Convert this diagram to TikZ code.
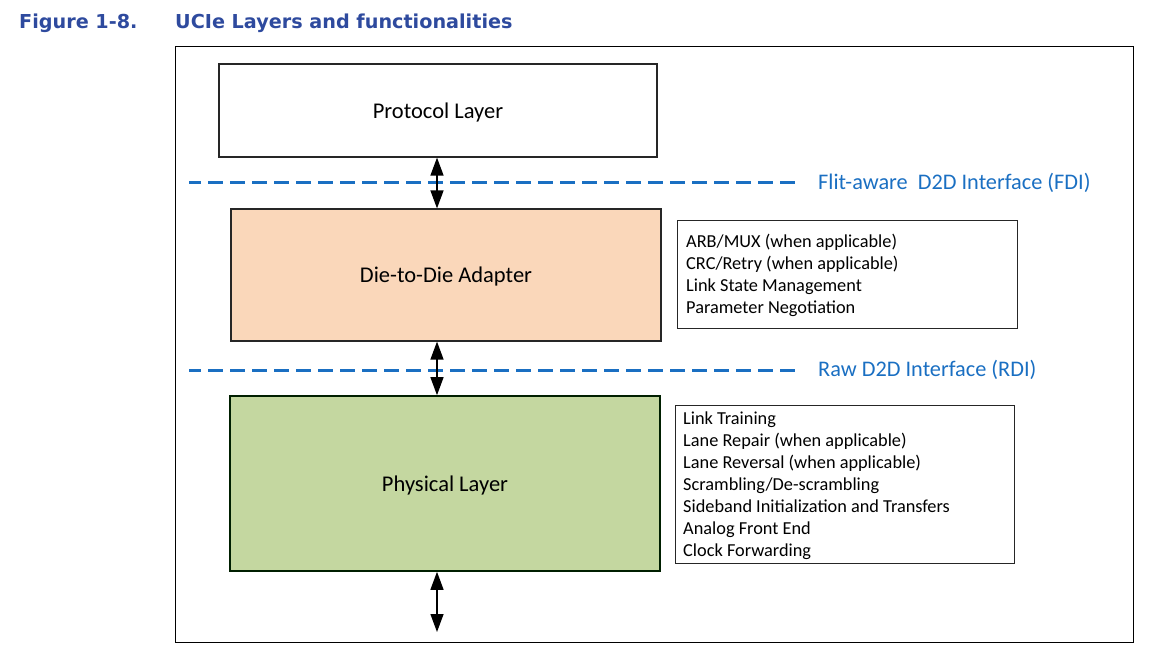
\documentclass[tikz,border=0pt]{standalone}
\usepackage{fontspec}
\setmainfont{Carlito}
\newfontfamily\titlefont{DejaVu Sans}
\usetikzlibrary{arrows.meta}
\definecolor{titleblue}{HTML}{2E4A9E}
\definecolor{ifblue}{HTML}{1A6FC2}
\definecolor{peach}{HTML}{FAD7BA}
\definecolor{sage}{HTML}{C4D7A0}
\tikzset{
  layer/.style={draw=black!85, line width=1.2pt, minimum width=#1, inner sep=0pt, text depth=0pt, font=\fontsize{22.5}{26}\selectfont},
  functext/.style={anchor=north west, inner sep=0pt, align=left, font=\fontsize{18.3}{22}\selectfont},
  funcbox/.style={draw=black!85, line width=1pt},
  ifline/.style={ifblue, line width=3pt, dash pattern=on 15pt off 7pt, dash phase=3pt},
  iflabel/.style={text=ifblue, anchor=west, inner sep=0pt, font=\fontsize{22.3}{26}\selectfont},
  dblarrow/.style={line width=1.3pt, {Triangle[length=18pt,width=13pt]}-{Triangle[length=18pt,width=13pt]}},
  title/.style={text=titleblue, anchor=west, inner sep=0pt, font=\titlefont\bfseries\fontsize{19.2}{22}\selectfont}
}
\begin{document}
\begin{tikzpicture}[x=1pt,y=-1pt]
\useasboundingbox (0,0) rectangle (1161,655);
% title
\node[title] (fig) at (19,23) {Figure 1-8.};
\node[title] (ttl) at (175,23) {UCIe Layers and functionalities};
% frame
\draw[line width=1pt] (175,47) rectangle (1133,642);
% layers
\node[layer=438pt, minimum height=93pt, fill=white] (prot) at (438,110.5) {Protocol Layer};
\node[layer=430pt, minimum height=132pt, fill=peach] (d2d) at (446,275) {Die-to-Die Adapter};
\node[layer=430pt, minimum height=175pt, fill=sage, draw=black!80!green!60!black, line width=1.6pt] (phy) at (445,483.5) {Physical Layer};
% interface lines
\coordinate (fdiL) at (189,183);
\coordinate (fdiR) at (798,183);
\coordinate (rdiL) at (189,370);
\coordinate (rdiR) at (798,370);
\draw[ifline] (fdiL) -- (fdiR);
\draw[ifline] (rdiL) -- (rdiR);
\node[iflabel] (fdi) at (818,183) {Flit-aware\ \ D2D Interface (FDI)};
\node[iflabel] (rdi) at (818,370) {Raw D2D Interface (RDI)};
% arrows
\coordinate (bot) at (437,632);
\draw[dblarrow] (prot.south -| 437,0) -- (d2d.north -| 437,0);
\draw[dblarrow] (d2d.south -| 437,0) -- (phy.north -| 437,0);
\draw[dblarrow] (phy.south -| 437,0) -- (bot);
% function boxes
\draw[funcbox] (677,220) rectangle (1017,328);
\node[functext] (f1) at (686,233.5) {ARB/MUX (when applicable)\\CRC/Retry (when applicable)\\Link State Management\\Parameter Negotiation};
\draw[funcbox] (675,405) rectangle (1014,563);
\node[functext] (f2) at (683,411.5) {Link Training\\Lane Repair (when applicable)\\Lane Reversal (when applicable)\\Scrambling/De-scrambling\\Sideband Initialization and Transfers\\Analog Front End\\Clock Forwarding};
\end{tikzpicture}
\end{document}
